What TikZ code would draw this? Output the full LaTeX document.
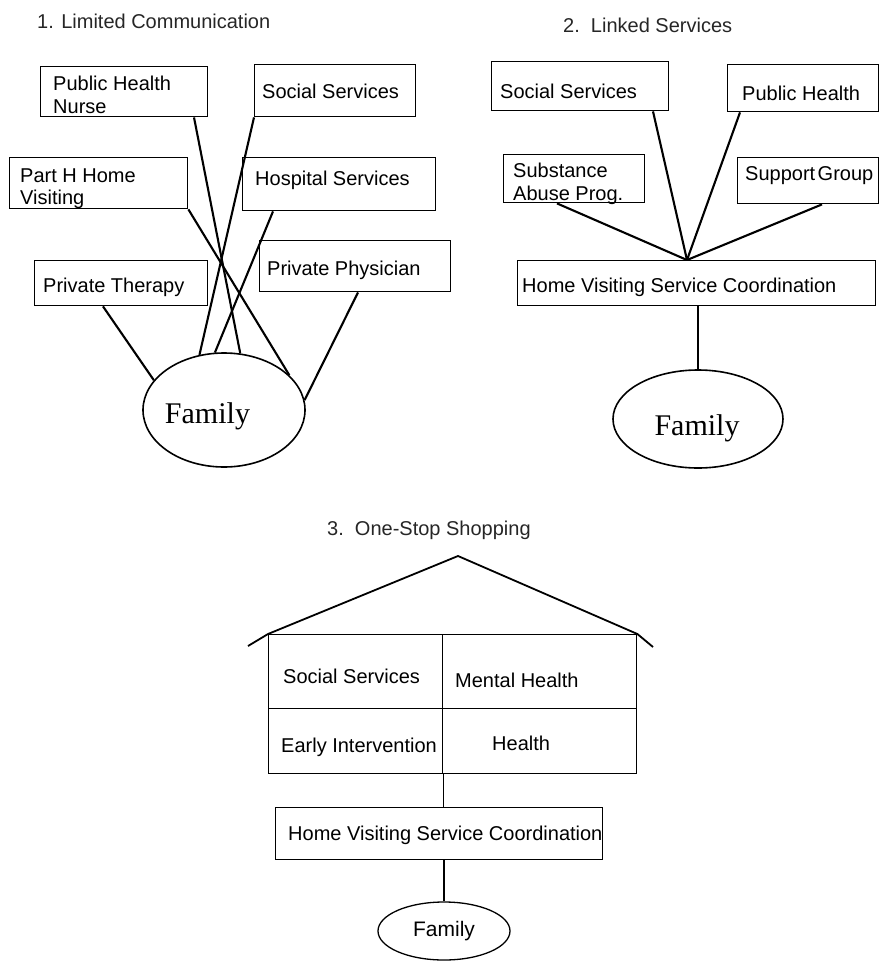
\documentclass[tikz,border=0pt]{standalone}
\usepackage{fontspec}
\setmainfont{Liberation Sans}
\newfontfamily\famserif{Liberation Serif}
\usetikzlibrary{shapes.geometric,calc}
\begin{document}
\begin{tikzpicture}[x=1pt,y=-1pt,
  box/.style={draw, line width=1.4pt, inner sep=0pt, anchor=north west},
  lbl/.style={anchor=base west, inner sep=0pt, font=\fontsize{20}{23}\selectfont},
  ttl/.style={anchor=base west, inner sep=0pt, font=\fontsize{20}{23}\selectfont, text=black!85},
  conn/.style={line width=2.1pt},
  thinconn/.style={line width=1.3pt},
  fam/.style={draw, ellipse, line width=1.6pt, inner sep=0pt},
  famtext/.style={anchor=base, inner sep=0pt, font=\famserif\fontsize{30}{30}\selectfont}]
\useasboundingbox (0,0) rectangle (879,964);

% ---------- Panel 1: Limited Communication ----------
\node[ttl] (t1) at (37,28) {1. Limited Communication};

\node[box, minimum width=167, minimum height=50] (phn) at (40,66) {};
\node[lbl] (phnA) at (53,90) {Public Health};
\node[lbl] (phnB) at (53,113) {Nurse};

\node[box, minimum width=161, minimum height=52] (ss1) at (254,64) {};
\node[lbl] (ss1t) at (262,98) {Social Services};

\node[box, minimum width=178, minimum height=51] (ph1) at (9,157) {};
\node[lbl] (ph1A) at (20,182) {Part H Home};
\node[lbl] (ph1B) at (20,204) {Visiting};

\node[box, minimum width=193, minimum height=53] (hs1) at (242,157) {};
\node[lbl] (hs1t) at (255,185) {Hospital Services};

\node[box, minimum width=173, minimum height=45] (pt1) at (34,260) {};
\node[lbl] (pt1t) at (43,292) {Private Therapy};

\node[box, minimum width=191, minimum height=51] (pp1) at (259,240) {};
\node[lbl] (pp1t) at (267,275) {Private Physician};

\node[fam, minimum width=162, minimum height=114] (fam1) at (224,410) {};
\node[famtext] (fam1t) at (207.5,423) {Family};

\draw[conn] ($(phn.south west)+(154,0)$) -- (fam1.74);
\draw[conn] (ss1.south west) -- (fam1.114);
\draw[conn] (ph1.south east) -- (fam1.28);
\draw[conn] ($(hs1.south west)+(31,0)$) -- (fam1.99);
\draw[conn] ($(pt1.south west)+(69,0)$) -- (fam1.157);
\draw[conn] ($(pp1.south west)+(99,0)$) -- (fam1.7);

% ---------- Panel 2: Linked Services ----------
\node[ttl] (t2) at (563,32) {2.\ \ Linked Services};

\node[box, minimum width=177, minimum height=49] (ss2) at (491,61) {};
\node[lbl] (ss2t) at (500,98) {Social Services};

\node[box, minimum width=151, minimum height=47] (ph2) at (727,64) {};
\node[lbl] (ph2t) at (742,100) {Public Health};

\node[box, minimum width=141, minimum height=48] (sa2) at (503,154) {};
\node[lbl] (sa2A) at (513,177) {Substance};
\node[lbl] (sa2B) at (513,200) {Abuse Prog.};

\node[box, minimum width=141, minimum height=46] (sg2) at (737,157) {};
\node[lbl] (sg2t) at (745,180) {Support\kern2.5pt Group};

\node[box, minimum width=358, minimum height=45] (hv2) at (517,260) {};
\node[lbl] (hv2t) at (522,292) {Home Visiting Service Coordination};

\coordinate (hub) at ($(hv2.north west)+(170,0)$);
\draw[conn] ($(sa2.south west)+(54,0)$) -- (hub);
\draw[conn] ($(ss2.south west)+(162,0)$) -- (hub);
\draw[conn] ($(ph2.south west)+(13,0)$) -- (hub);
\draw[conn] ($(sg2.south west)+(85,0)$) -- (hub);

\node[fam, minimum width=170, minimum height=98] (fam2) at (698,419) {};
\node[famtext] (fam2t) at (697,435) {Family};
\draw[thinconn] (hv2.south -| fam2.north) -- (fam2.north);

% ---------- Panel 3: One-Stop Shopping ----------
\node[ttl] (t3) at (327,535) {3.\ \ One-Stop Shopping};

\node[box, minimum width=174, minimum height=74] (c11) at (268,634) {};
\node[box, minimum width=194, minimum height=74] (c12) at (442,634) {};
\node[box, minimum width=174, minimum height=65] (c21) at (268,708) {};
\node[box, minimum width=194, minimum height=65] (c22) at (442,708) {};
\node[lbl] (c11t) at (283,683) {Social Services};
\node[lbl] (c12t) at (455,687) {Mental Health};
\node[lbl] (c21t) at (281,752) {Early Intervention};
\node[lbl] (c22t) at (492,750) {Health};

\coordinate (roofL) at (248,646);
\coordinate (roofP) at (458,556);
\coordinate (roofR) at (653,647);
\draw[conn, line width=1.8pt] (roofL) -- (c11.north west) -- (roofP) -- (c12.north east) -- (roofR);

\node[box, minimum width=327, minimum height=52] (hv3) at (275,807) {};
\node[lbl] (hv3t) at (288,840) {Home Visiting Service Coordination};
\draw[thinconn] (c21.south east) -- (c21.south east |- hv3.north);

\node[fam, line width=1.3pt, minimum width=132, minimum height=58, font=\fontsize{21}{21}\selectfont] (fam3) at (444,931) {Family};
\draw[thinconn] (hv3.south -| fam3.north) -- (fam3.north);

\end{tikzpicture}
\end{document}
